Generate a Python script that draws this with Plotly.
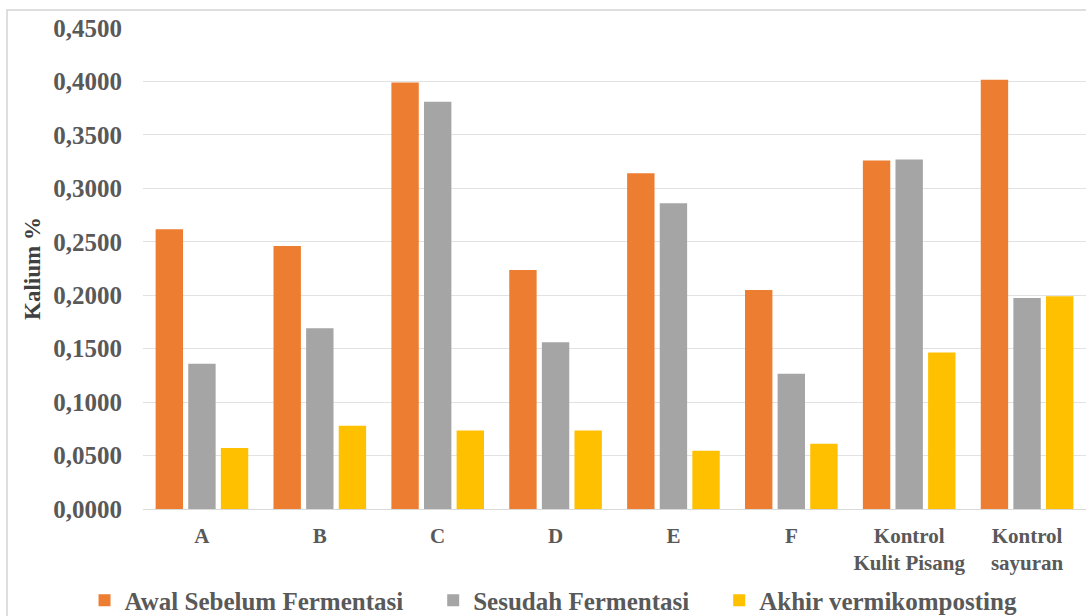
import plotly.graph_objects as go

categories = ["A", "B", "C", "D", "E", "F", "Kontrol<br>Kulit Pisang", "Kontrol<br>sayuran"]
awal = [0.2617, 0.2460, 0.3990, 0.2236, 0.3140, 0.2050, 0.3260, 0.4015]
sesudah = [0.1360, 0.1690, 0.3810, 0.1560, 0.2860, 0.1265, 0.3270, 0.1975]
akhir = [0.0570, 0.0780, 0.0735, 0.0735, 0.0545, 0.0610, 0.1465, 0.1990]
series_names = ["Awal Sebelum Fermentasi", "Sesudah Fermentasi", "Akhir vermikomposting"]
series_colors = ["#ED7D31", "#A5A5A5", "#FFC000"]
y_ticks = [0.0, 0.05, 0.10, 0.15, 0.20, 0.25, 0.30, 0.35, 0.40, 0.45]
y_tick_text = ["0,0000", "0,0500", "0,1000", "0,1500", "0,2000", "0,2500",
               "0,3000", "0,3500", "0,4000", "0,4500"]

FONT = "Liberation Serif"
PAD = "&nbsp;" * 4  # extra spacing between legend entries

fig = go.Figure()
for i, (name, vals, col) in enumerate(zip(series_names, [awal, sesudah, akhir], series_colors)):
    label = "<b>" + name + "</b>" + (PAD if i < len(series_names) - 1 else "")
    fig.add_trace(go.Bar(x=categories, y=vals, name=label,
                         marker=dict(color=col, line=dict(width=0))))

fig.update_layout(
    width=1086, height=616,
    margin=dict(l=143, r=0, t=28, b=107, autoexpand=False),
    paper_bgcolor="white", plot_bgcolor="white",
    barmode="group", bargap=0.17, bargroupgap=0.16,
    font=dict(family=FONT, color="#595959"),
    showlegend=True,
    legend=dict(orientation="h", xref="paper", yref="paper",
                x=-0.062, xanchor="left", y=-0.19, yanchor="middle",
                font=dict(family=FONT, size=25, color="#595959"),
                itemwidth=30, traceorder="normal"),
    xaxis=dict(showgrid=False, showline=False, zeroline=False, ticks="",
               tickfont=dict(family=FONT, size=21, color="#595959", weight="bold"),
               ticklabelstandoff=12),
    yaxis=dict(range=[0, 0.45], tickvals=y_ticks, ticktext=y_tick_text,
               showgrid=True, gridcolor="#E2E2E2", gridwidth=1,
               zeroline=True, zerolinecolor="#D9D9D9", zerolinewidth=1,
               showline=False, ticks="",
               tickfont=dict(family=FONT, size=25, color="#595959", weight="bold"),
               ticklabelstandoff=20,
               title=dict(text="Kalium %", standoff=6,
                          font=dict(family=FONT, size=23, color="#404040", weight="bold"))),
    shapes=[dict(type="rect", xref="paper", yref="paper",
                 x0=-0.1442, x1=1.02, y0=-0.3, y1=1.0374,
                 line=dict(color="#D4D4D4", width=1.5), fillcolor="rgba(0,0,0,0)",
                 layer="below")],
)

fig.write_html("out.html")
